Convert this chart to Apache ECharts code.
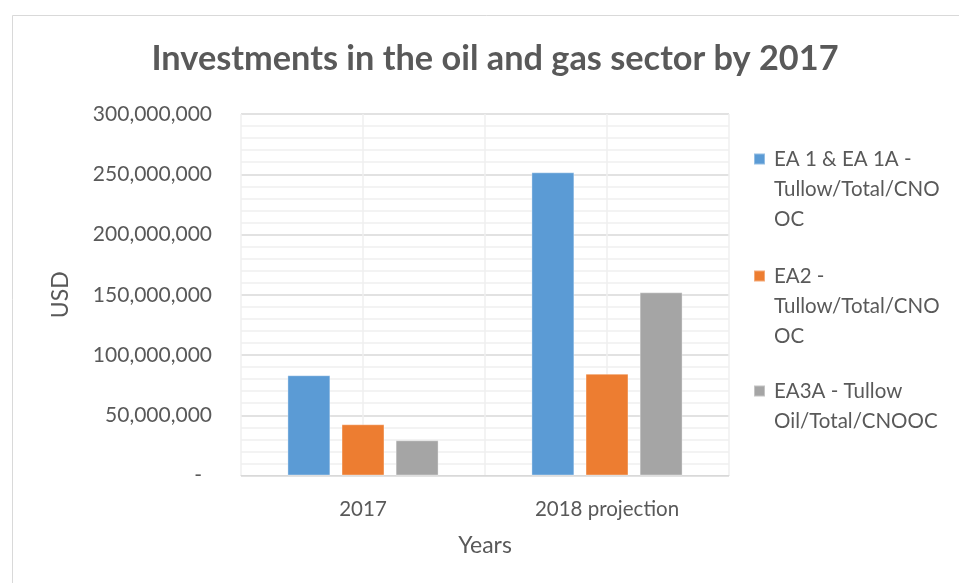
<!DOCTYPE html>
<html>
<head>
<meta charset="utf-8">
<script src="https://cdn.jsdelivr.net/npm/echarts@6/dist/echarts.min.js"></script>
<style>
html,body{margin:0;padding:0;background:#fff;}
#chart{width:959px;height:583px;}
</style>
</head>
<body>
<div id="chart"></div>
<script>
const categories = ['2017', '2018 projection'];
const seriesNames = ['EA 1 & EA 1A - Tullow/Total/CNOOC', 'EA2 - Tullow/Total/CNOOC', 'EA3A - Tullow Oil/Total/CNOOC'];
const legendLines = [
  ['EA 1 & EA 1A -', 'Tullow/Total/CNO', 'OC'],
  ['EA2 -', 'Tullow/Total/CNO', 'OC'],
  ['EA3A - Tullow', 'Oil/Total/CNOOC']
];
const ea1 = [83200000, 251600000];
const ea2 = [42500000, 84500000];
const ea3a = [29200000, 152000000];
const yMin = 0, yMax = 300000000, yStep = 50000000;
const colors = ['#5b9bd5', '#ed7d31', '#a5a5a5'];
const seriesValues = [ea1, ea2, ea3a];

const FONT = 'Lato';
const TXT = '#595959';
const LH = 30;

// first-line centre of each legend entry (px)
const legendFirstLine = [159, 276, 391];

const legends = seriesNames.map((name, i) => {
  const n = legendLines[i].length;
  const boxH = (2 * n - 1) * LH;
  // prepend blank lines so the first real line sits level with the icon
  const txt = Array(n - 1).fill(' ').concat(legendLines[i]).join('\n');
  return {
    data: [name],
    orient: 'vertical',
    left: 753,
    top: legendFirstLine[i] - boxH / 2,
    padding: 0,
    itemWidth: 11,
    itemHeight: 11,
    icon: 'rect',
    selectedMode: false,
    formatter: () => txt,
    textStyle: {
      fontFamily: FONT, fontSize: 20.5, color: TXT, lineHeight: LH,
      padding: [0, 0, 0, 4]
    }
  };
});

const chart = echarts.init(document.getElementById('chart'));
chart.setOption({
  animation: false,
  backgroundColor: '#fff',
  color: colors,
  title: {
    text: 'Investments in the oil and gas sector by 2017',
    left: 490, top: 37, textAlign: 'center',
    textStyle: { fontFamily: FONT, fontSize: 34.3, fontWeight: 'bold', color: TXT }
  },
  legend: legends,
  graphic: [{
    type: 'rect', silent: true, z: -1,
    shape: { x: 12.5, y: 15.5, width: 970, height: 600 },
    style: { fill: 'none', stroke: '#d9d9d9', lineWidth: 1 }
  }],
  grid: { left: 241, right: 230, top: 114, bottom: 107.5 },
  xAxis: [{
    type: 'category',
    data: categories,
    name: 'Years',
    nameLocation: 'middle',
    nameGap: 59,
    nameTextStyle: { fontFamily: FONT, fontSize: 23, color: TXT },
    axisLine: { show: true, lineStyle: { color: '#d9d9d9', width: 1 } },
    axisTick: { show: false },
    axisLabel: { fontFamily: FONT, fontSize: 20.5, color: TXT, margin: 23 },
    splitLine: { show: false }
  }, {
    type: 'value',
    min: 0, max: 4, interval: 1,
    position: 'bottom',
    axisLine: { show: false }, axisTick: { show: false }, axisLabel: { show: false },
    splitLine: { show: true, lineStyle: { color: '#efefef', width: 1.5 } }
  }],
  yAxis: {
    type: 'value',
    min: yMin, max: yMax, interval: yStep,
    name: 'USD',
    nameLocation: 'middle',
    nameGap: 169,
    nameTextStyle: { fontFamily: FONT, fontSize: 23, color: TXT },
    axisLine: { show: false },
    axisTick: { show: false },
    axisLabel: {
      fontFamily: FONT, fontSize: 21, color: TXT, margin: 29,
      formatter: v => v === 0 ? '{d|-}' : v.toLocaleString('en-US'),
      rich: { d: { fontFamily: FONT, fontSize: 21, color: TXT, padding: [0, 10, 0, 0] } }
    },
    splitLine: { show: true, lineStyle: { color: '#d9d9d9', width: 1.5 } },
    minorTick: { show: false, splitNumber: 5 },
    minorSplitLine: { show: true, lineStyle: { color: '#f0f0f0', width: 1.5 } }
  },
  series: seriesNames.map((name, i) => ({
    name: name,
    type: 'bar',
    xAxisIndex: 0,
    data: seriesValues[i],
    barWidth: '17.6%',
    barGap: '26%',
    itemStyle: { color: colors[i], borderColor: 'rgba(255,255,255,0.35)', borderWidth: 1 }
  }))
});
</script>
</body>
</html>
